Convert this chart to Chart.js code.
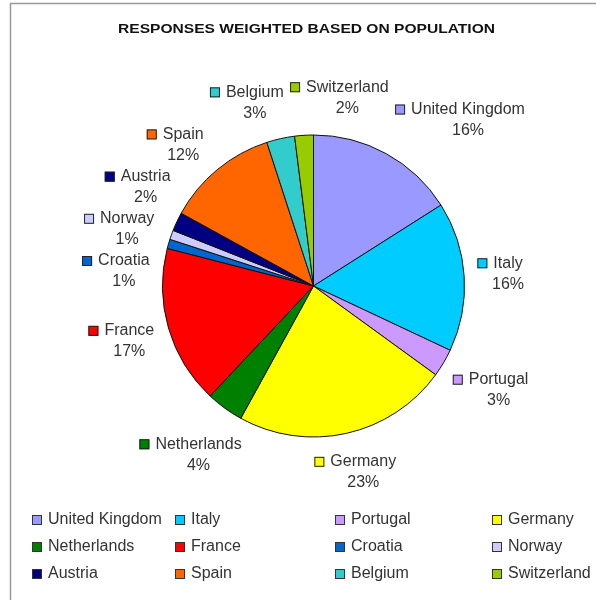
<!DOCTYPE html>
<html><head><meta charset="utf-8">
<script src="https://cdn.jsdelivr.net/npm/chart.js@4/dist/chart.umd.min.js"></script>
<style>html,body{margin:0;padding:0;background:#fff;}#wrap{position:relative;width:596px;height:600px;}</style>
</head><body><div id="wrap"><canvas id="c" width="596" height="600"></canvas></div>
<script>
const categories = ['United Kingdom','Italy','Portugal','Germany','Netherlands','France','Croatia','Norway','Austria','Spain','Belgium','Switzerland'];
const shares = [16,16,3,23,4,17,1,1,2,12,3,2];
const colors = ['#9999FF','#00CCFF','#CC99FF','#FFFF00','#008000','#FF0000','#0066CC','#CCCCFF','#000080','#FF6600','#33CCCC','#99CC00'];
const titleText = 'RESPONSES WEIGHTED BASED ON POPULATION';

const FONT = '16px "Liberation Sans", Arial, sans-serif';
const TEXT_COLOR = '#333';
const SQ = 10, SQGAP = 6, GAP = 12, LABEL_H = 40;
const LEGEND_COLS = [32, 175, 335, 492];
const LEGEND_ROWS = [520, 547, 574];

const decorPlugin = {
  id: 'decor',
  afterDraw(chart) {
    const ctx = chart.ctx;
    const meta = chart.getDatasetMeta(0);
    const total = shares.reduce((a, b) => a + b, 0);
    ctx.save();
    // frame
    ctx.strokeStyle = '#9a9a9a';
    ctx.lineWidth = 1.5;
    ctx.strokeRect(10.5, 3.5, 800, 800);
    // title
    ctx.font = 'bold 12px "Liberation Sans", Arial, sans-serif';
    ctx.fillStyle = '#111';
    ctx.textBaseline = 'middle';
    ctx.textAlign = 'left';
    const tW = ctx.measureText(titleText).width;
    const targetW = 377;
    ctx.save();
    ctx.translate(306.5 - targetW / 2, 30);
    ctx.scale(targetW / tW, 1);
    ctx.fillText(titleText, 0, 0);
    ctx.restore();

    // data labels
    ctx.font = FONT;
    const items = meta.data.map((arc, i) => {
      const name = categories[i];
      const pct = Math.round(shares[i] / total * 100) + '%';
      const tw = ctx.measureText(name).width;
      return { i, name, pct, tw, w: SQ + SQGAP + tw, h: LABEL_H,
        a: (arc.startAngle + arc.endAngle) / 2, cx: arc.x, cy: arc.y, R: arc.outerRadius };
    });
    function place(it) {
      const c = Math.cos(it.a), s = Math.sin(it.a);
      const ext = Math.abs(c) * it.w / 2 + Math.abs(s) * it.h / 2;
      const D = it.R + GAP + ext;
      it.x = it.cx + D * c; it.y = it.cy + D * s;
    }
    items.forEach(place);
    const padX = 6, padY = 2, step = 0.002;
    const overlap = (p, q) => Math.abs(p.x - q.x) < (p.w + q.w) / 2 + padX && Math.abs(p.y - q.y) < (p.h + q.h) / 2 + padY;
    for (let iter = 0; iter < 4000; iter++) {
      let moved = false;
      for (let m = 0; m < items.length; m++) for (let n = m + 1; n < items.length; n++) {
        const p = items[m], q = items[n];
        if (overlap(p, q)) {
          let d = q.a - p.a;
          while (d > Math.PI) d -= 2 * Math.PI;
          while (d < -Math.PI) d += 2 * Math.PI;
          if (d >= 0) { p.a -= step; q.a += step; } else { p.a += step; q.a -= step; }
          place(p); place(q); moved = true;
        }
      }
      if (!moved) break;
    }
    items.forEach(it => {
      const left = it.x - it.w / 2, top = it.y - it.h / 2;
      const nameY = top + 9, pctY = top + 30;
      ctx.fillStyle = colors[it.i];
      ctx.fillRect(left, nameY - SQ / 2, SQ, SQ);
      ctx.strokeStyle = '#222';
      ctx.lineWidth = 1;
      ctx.strokeRect(left + 0.5, nameY - SQ / 2 + 0.5, SQ - 1, SQ - 1);
      ctx.fillStyle = TEXT_COLOR;
      ctx.textAlign = 'left';
      ctx.textBaseline = 'middle';
      ctx.fillText(it.name, left + SQ + SQGAP, nameY);
      ctx.textAlign = 'center';
      ctx.fillText(it.pct, left + SQ + SQGAP + it.tw / 2, pctY);
    });

    // legend
    ctx.textAlign = 'left';
    ctx.textBaseline = 'middle';
    categories.forEach((name, i) => {
      const x = LEGEND_COLS[i % 4], y = LEGEND_ROWS[Math.floor(i / 4)];
      ctx.fillStyle = colors[i];
      ctx.fillRect(x, y - 5, 10, 10);
      ctx.strokeStyle = '#333';
      ctx.lineWidth = 1;
      ctx.strokeRect(x + 0.5, y - 4.5, 9, 9);
      ctx.fillStyle = TEXT_COLOR;
      ctx.fillText(name, x + 16, y);
    });
    ctx.restore();
  }
};

new Chart(document.getElementById('c'), {
  type: 'pie',
  data: {
    labels: categories,
    datasets: [{ data: shares, backgroundColor: colors, borderColor: '#111', borderWidth: 1 }]
  },
  options: {
    responsive: false,
    animation: false,
    devicePixelRatio: 1,
    layout: { padding: { left: 162, right: 131, top: 134, bottom: 162 } },
    plugins: { legend: { display: false }, title: { display: false }, tooltip: { enabled: false } }
  },
  plugins: [decorPlugin]
});
</script>
</body></html>
